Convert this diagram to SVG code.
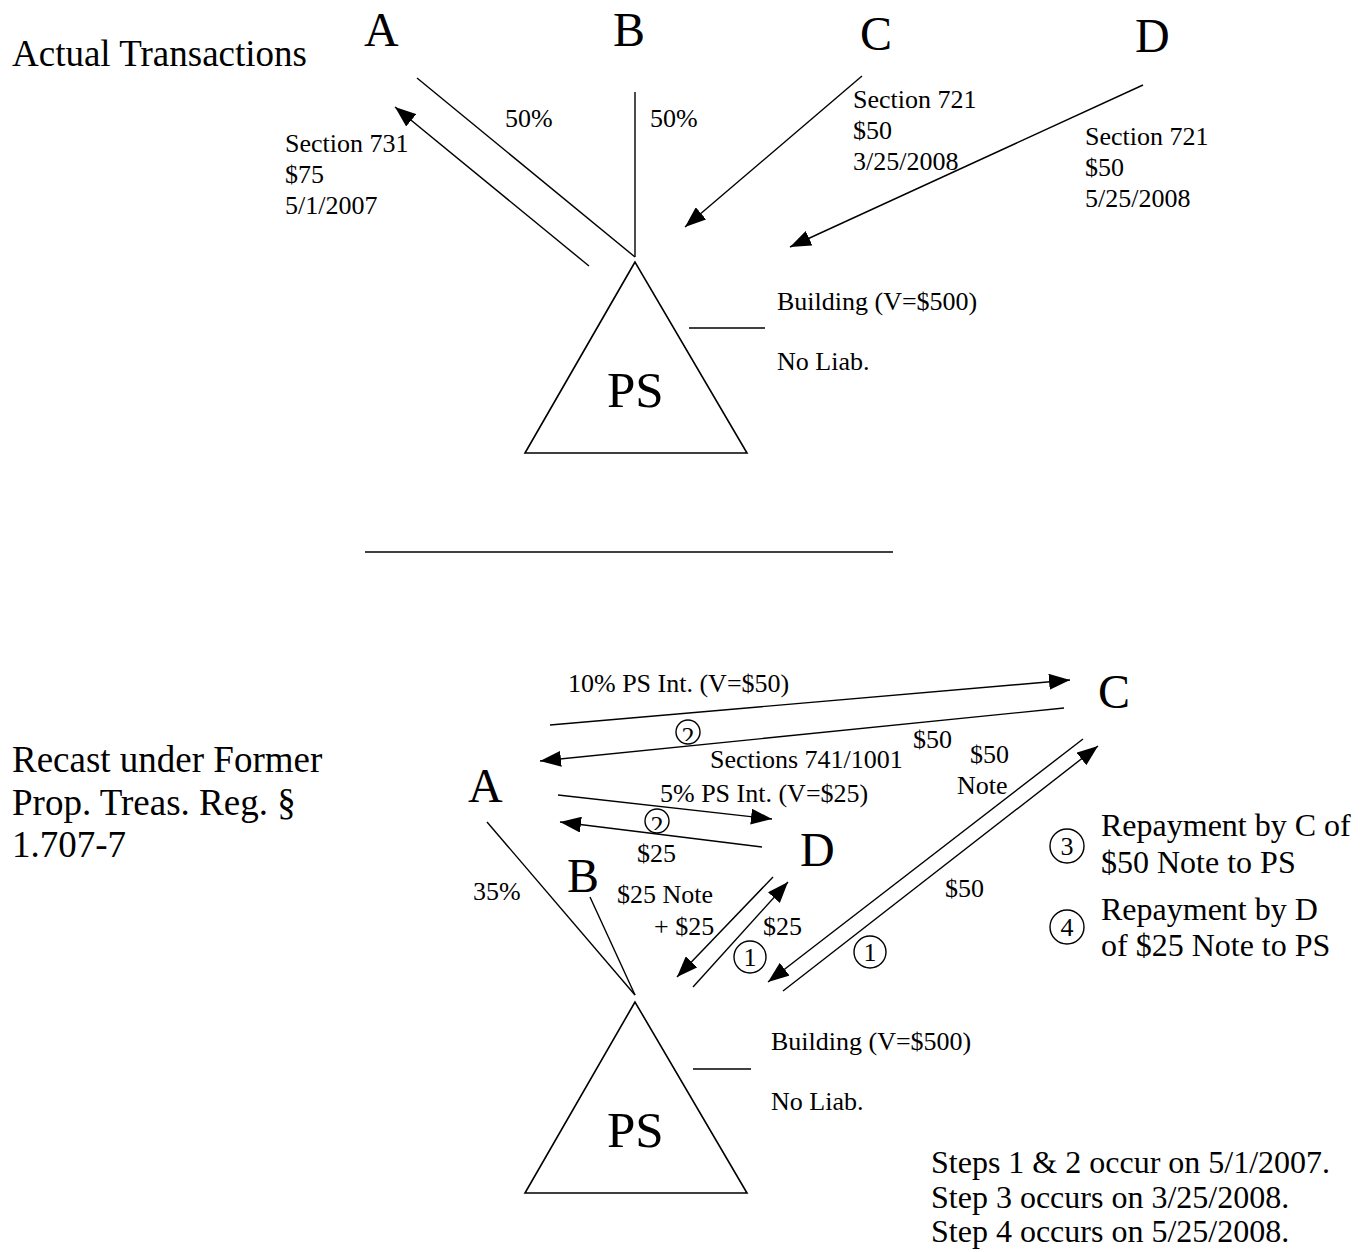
<svg xmlns="http://www.w3.org/2000/svg" width="1369" height="1252" viewBox="0 0 1369 1252">
  <style>
    text { font-family: "Liberation Serif", "Times New Roman", serif; fill: #000; }
    .title { font-size: 37px; }
    .party { font-size: 48px; }
    .ps { font-size: 51px; }
    .lbl { font-size: 26px; }
    .note { font-size: 32px; }
    .num { font-size: 26px; text-anchor: middle; }
    .ln { stroke: #000; stroke-width: 1.4; fill: none; }
    .arr { stroke: #000; stroke-width: 1.4; fill: none; marker-end: url(#head); }
    .ring { stroke: #000; stroke-width: 1.4; fill: #fff; }
    .tri { stroke: #000; stroke-width: 1.6; fill: #fff; }
  </style>
  <defs>
    <marker id="head" markerUnits="userSpaceOnUse" markerWidth="21" markerHeight="16" refX="21" refY="8" orient="auto">
      <path d="M0,0 L21,8 L0,16 z" fill="#000"/>
    </marker>
    <clipPath id="clipStep2a"><rect x="674" y="720" width="28" height="21"/></clipPath>
    <clipPath id="clipStep2b"><rect x="643" y="809" width="28" height="21"/></clipPath>
  </defs>
  <rect width="1369" height="1252" fill="#fff"/>

  <!-- Upper panel: actual transactions -->
  <text class="title" x="12" y="66">Actual Transactions</text>

  <g id="connectors-actual">
    <line class="ln" x1="417" y1="78" x2="635" y2="257"/>
    <line class="ln" x1="635" y1="92" x2="635" y2="257"/>
    <line class="arr" x1="589" y1="266" x2="395" y2="107"/>
    <line class="arr" x1="862" y1="76" x2="685" y2="227"/>
    <line class="arr" x1="1143" y1="85" x2="790" y2="247"/>
    <line class="ln" x1="689" y1="328" x2="765" y2="328"/>
  </g>

  <g id="partner-a-top"><text class="party" x="364" y="46">A</text></g>
  <g id="partner-b-top"><text class="party" x="613" y="46">B</text></g>
  <g id="partner-c-top"><text class="party" x="860" y="50">C</text></g>
  <g id="partner-d-top"><text class="party" x="1135" y="52">D</text></g>

  <g id="labels-actual">
    <text class="lbl" x="505" y="127">50%</text>
    <text class="lbl" x="650" y="127">50%</text>
    <text class="lbl" x="285" y="152">Section 731</text>
    <text class="lbl" x="285" y="183">$75</text>
    <text class="lbl" x="285" y="214">5/1/2007</text>
    <text class="lbl" x="853" y="108">Section 721</text>
    <text class="lbl" x="853" y="139">$50</text>
    <text class="lbl" x="853" y="170">3/25/2008</text>
    <text class="lbl" x="1085" y="145">Section 721</text>
    <text class="lbl" x="1085" y="176">$50</text>
    <text class="lbl" x="1085" y="207">5/25/2008</text>
  </g>

  <g id="partnership-top">
    <polygon class="tri" points="635,262 525,453 747,453"/>
    <text class="ps" x="607" y="407">PS</text>
    <text class="lbl" x="777" y="310">Building (V=$500)</text>
    <text class="lbl" x="777" y="370">No Liab.</text>
  </g>

  <line class="ln" x1="365" y1="552" x2="893" y2="552"/>

  <!-- Lower panel: recast -->
  <text class="title" x="12" y="772">Recast under Former</text>
  <text class="title" x="12" y="815">Prop. Treas. Reg. §</text>
  <text class="title" x="12" y="857">1.707-7</text>

  <g id="connectors-recast">
    <line class="arr" x1="550" y1="725" x2="1070" y2="680"/>
    <line class="arr" x1="1064" y1="708" x2="540" y2="761"/>
    <line class="arr" x1="558" y1="795" x2="772" y2="819"/>
    <line class="arr" x1="762" y1="847" x2="560" y2="822"/>
    <line class="ln" x1="487" y1="822" x2="635" y2="995"/>
    <line class="ln" x1="590" y1="897" x2="635" y2="995"/>
    <line class="arr" x1="773" y1="877" x2="677" y2="977"/>
    <line class="arr" x1="693" y1="987" x2="788" y2="882"/>
    <line class="arr" x1="1083" y1="739" x2="768" y2="982"/>
    <line class="arr" x1="783" y1="991" x2="1098" y2="746"/>
    <line class="ln" x1="693" y1="1069" x2="751" y2="1069"/>
  </g>

  <g id="partner-a"><text class="party" x="468" y="802">A</text></g>
  <g id="partner-b"><text class="party" x="567" y="892">B</text></g>
  <g id="partner-c"><text class="party" x="1098" y="708">C</text></g>
  <g id="partner-d"><text class="party" x="800" y="866">D</text></g>

  <g id="labels-recast">
    <text class="lbl" x="568" y="692">10% PS Int. (V=$50)</text>
    <text class="lbl" x="710" y="768">Sections 741/1001</text>
    <text class="lbl" x="913" y="748">$50</text>
    <text class="lbl" x="970" y="763">$50</text>
    <text class="lbl" x="957" y="794">Note</text>
    <text class="lbl" x="660" y="802">5% PS Int. (V=$25)</text>
    <text class="lbl" x="637" y="862">$25</text>
    <text class="lbl" x="473" y="900">35%</text>
    <text class="lbl" x="617" y="903">$25 Note</text>
    <text class="lbl" x="654" y="935">+ $25</text>
    <text class="lbl" x="763" y="935">$25</text>
    <text class="lbl" x="945" y="897">$50</text>
  </g>

  <g id="step-markers">
    <circle class="ring" cx="688" cy="732" r="12"/>
    <text class="num" x="688" y="745" clip-path="url(#clipStep2a)">2</text>
    <circle class="ring" cx="657" cy="821" r="12"/>
    <text class="num" x="657" y="834" clip-path="url(#clipStep2b)">2</text>
    <circle class="ring" cx="750" cy="957" r="16"/>
    <text class="num" x="750" y="966">1</text>
    <circle class="ring" cx="870" cy="952" r="16"/>
    <text class="num" x="870" y="961">1</text>
  </g>

  <g id="legend">
    <circle class="ring" cx="1067" cy="846" r="17"/>
    <text class="num" x="1067" y="855">3</text>
    <text class="note" x="1101" y="836">Repayment by C of</text>
    <text class="note" x="1101" y="873">$50 Note to PS</text>
    <circle class="ring" cx="1067" cy="927" r="17"/>
    <text class="num" x="1067" y="936">4</text>
    <text class="note" x="1101" y="920">Repayment by D</text>
    <text class="note" x="1101" y="956">of $25 Note to PS</text>
  </g>

  <g id="partnership">
    <polygon class="tri" points="635,1002 525,1193 747,1193"/>
    <text class="ps" x="607" y="1147">PS</text>
    <text class="lbl" x="771" y="1050">Building (V=$500)</text>
    <text class="lbl" x="771" y="1110">No Liab.</text>
  </g>

  <g id="schedule">
    <text class="note" x="931" y="1173">Steps 1 &amp; 2 occur on 5/1/2007.</text>
    <text class="note" x="931" y="1208">Step 3 occurs on 3/25/2008.</text>
    <text class="note" x="931" y="1242">Step 4 occurs on 5/25/2008.</text>
  </g>
</svg>
